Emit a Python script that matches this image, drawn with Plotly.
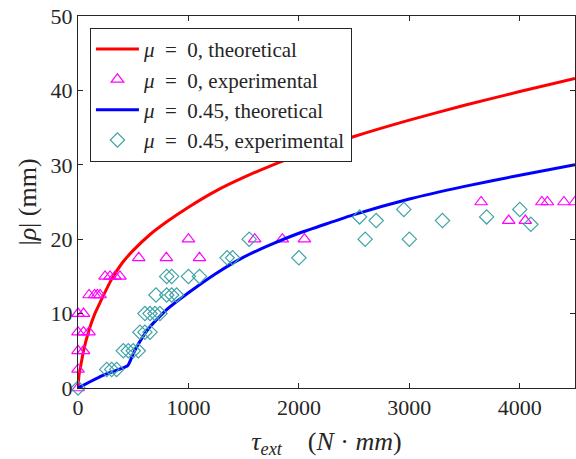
import plotly.graph_objects as go

# Theoretical curves
theo0_x = [0, 10, 25, 50, 100, 150, 200, 300, 400, 500, 650, 800, 1000, 1250, 1500,
           1750, 2000, 2500, 3000, 3500, 4000, 4500]
theo0_y = [0, 1.8, 3.0, 5.0, 7.8, 9.9, 11.5, 14.5, 16.8, 18.5, 20.6, 22.3, 24.3, 26.5,
           28.3, 29.9, 31.3, 33.8, 36.0, 38.0, 39.85, 41.6]

theo45_x = [0, 225, 450, 500, 550, 650, 800, 1000, 1250, 1500, 1750, 2000, 2500,
            3000, 3500, 4000, 4500]
theo45_y = [0, 1.7, 3.0, 4.6, 6.0, 8.2, 10.5, 12.8, 15.4, 17.6, 19.3, 20.8, 23.3,
            25.4, 27.1, 28.6, 30.0]

# Experimental points, mu = 0
exp0_x = [0, 0, 0, 50, 0, 50, 100, 0, 50, 100, 150, 175, 200, 245, 290, 335, 380,
          550, 800, 1100, 1000, 1600, 1850, 2050, 3650, 3900, 4050, 4200, 4250, 4400, 4500]
exp0_y = [0, 2.5, 5, 5, 7.5, 7.5, 7.5, 10, 10, 12.5, 12.5, 12.5, 12.5, 15, 15, 15, 15,
          17.5, 17.5, 17.5, 20, 20, 20, 20, 25, 22.5, 22.5, 25, 25, 25, 25]

# Experimental points, mu = 0.45
exp45_x = [0, 260, 305, 350, 410, 455, 500, 546, 561, 606, 652, 606, 652, 697, 742,
           706, 803, 848, 893, 803, 848, 1000, 1100, 1350, 1400, 1550, 2000,
           2550, 2600, 2700, 2950, 3000, 3300, 3700, 4000, 4100]
exp45_y = [0, 2.5, 2.5, 2.5, 5, 5, 5, 5, 7.5, 7.5, 7.5, 10, 10, 10, 10,
           12.5, 12.5, 12.5, 12.5, 15, 15, 15, 15, 17.5, 17.5, 20, 17.5,
           23, 20, 22.5, 24, 20, 22.5, 23, 24, 22]

x_ticks = [0, 1000, 2000, 3000, 4000]
y_ticks = [0, 10, 20, 30, 40, 50]

FONT = "Liberation Serif"
AX = "#262626"
EQ = "&nbsp;&nbsp;=&nbsp;&nbsp;"

fig = go.Figure()
fig.add_trace(go.Scatter(x=theo0_x, y=theo0_y, mode="lines",
                         line=dict(color="#FF0000", width=3, shape="spline", smoothing=0.6),
                         name=f"<i>μ</i>{EQ}0, theoretical", cliponaxis=False))
fig.add_trace(go.Scatter(x=exp0_x, y=exp0_y, mode="markers",
                         marker=dict(symbol="triangle-up-open", size=11, color="#FF00FF",
                                     line=dict(width=1.2, color="#FF00FF")),
                         name=f"<i>μ</i>{EQ}0, experimental", cliponaxis=False))
fig.add_trace(go.Scatter(x=theo45_x, y=theo45_y, mode="lines",
                         line=dict(color="#0000FF", width=3, shape="spline", smoothing=0.4),
                         name=f"<i>μ</i>{EQ}0.45, theoretical", cliponaxis=False))
fig.add_trace(go.Scatter(x=exp45_x, y=exp45_y, mode="markers",
                         marker=dict(symbol="diamond-open", size=11, color="#3FA3A6",
                                     line=dict(width=1.2, color="#3FA3A6")),
                         name=f"<i>μ</i>{EQ}0.45, experimental", cliponaxis=False))

fig.update_layout(
    width=576, height=459,
    margin=dict(l=78, r=1, t=16, b=71),
    paper_bgcolor="white", plot_bgcolor="white",
    font=dict(family=FONT, size=22, color="#262626"),
    showlegend=True,
    legend=dict(x=0.024, y=0.968, xanchor="left", yanchor="top",
                bgcolor="white", bordercolor="#262626", borderwidth=1,
                font=dict(family=FONT, size=21, color="#262626"),
                tracegroupgap=0, itemwidth=43),
)
fig.update_xaxes(range=[0, 4500], tickvals=x_ticks, ticktext=[str(v) for v in x_ticks],
                 ticks="inside", ticklen=5, tickcolor=AX, showline=True, linecolor=AX,
                 linewidth=1, mirror="ticks", showgrid=False, zeroline=False,
                 tickfont=dict(size=22),
                 title=dict(text="<i>τ<sub>ext</sub></i>&nbsp;&nbsp;&nbsp;&nbsp;(<i>N</i> · <i>mm</i>)",
                            font=dict(size=26), standoff=15))
fig.update_yaxes(range=[0, 50], tickvals=y_ticks, ticktext=[str(v) for v in y_ticks],
                 ticks="inside", ticklen=5, tickcolor=AX, showline=True, linecolor=AX,
                 linewidth=1, mirror="ticks", showgrid=False, zeroline=False,
                 tickfont=dict(size=22),
                 title=dict(text="|<i>ρ</i>| (mm)", font=dict(size=26), standoff=6))

fig.write_html("out.html")
